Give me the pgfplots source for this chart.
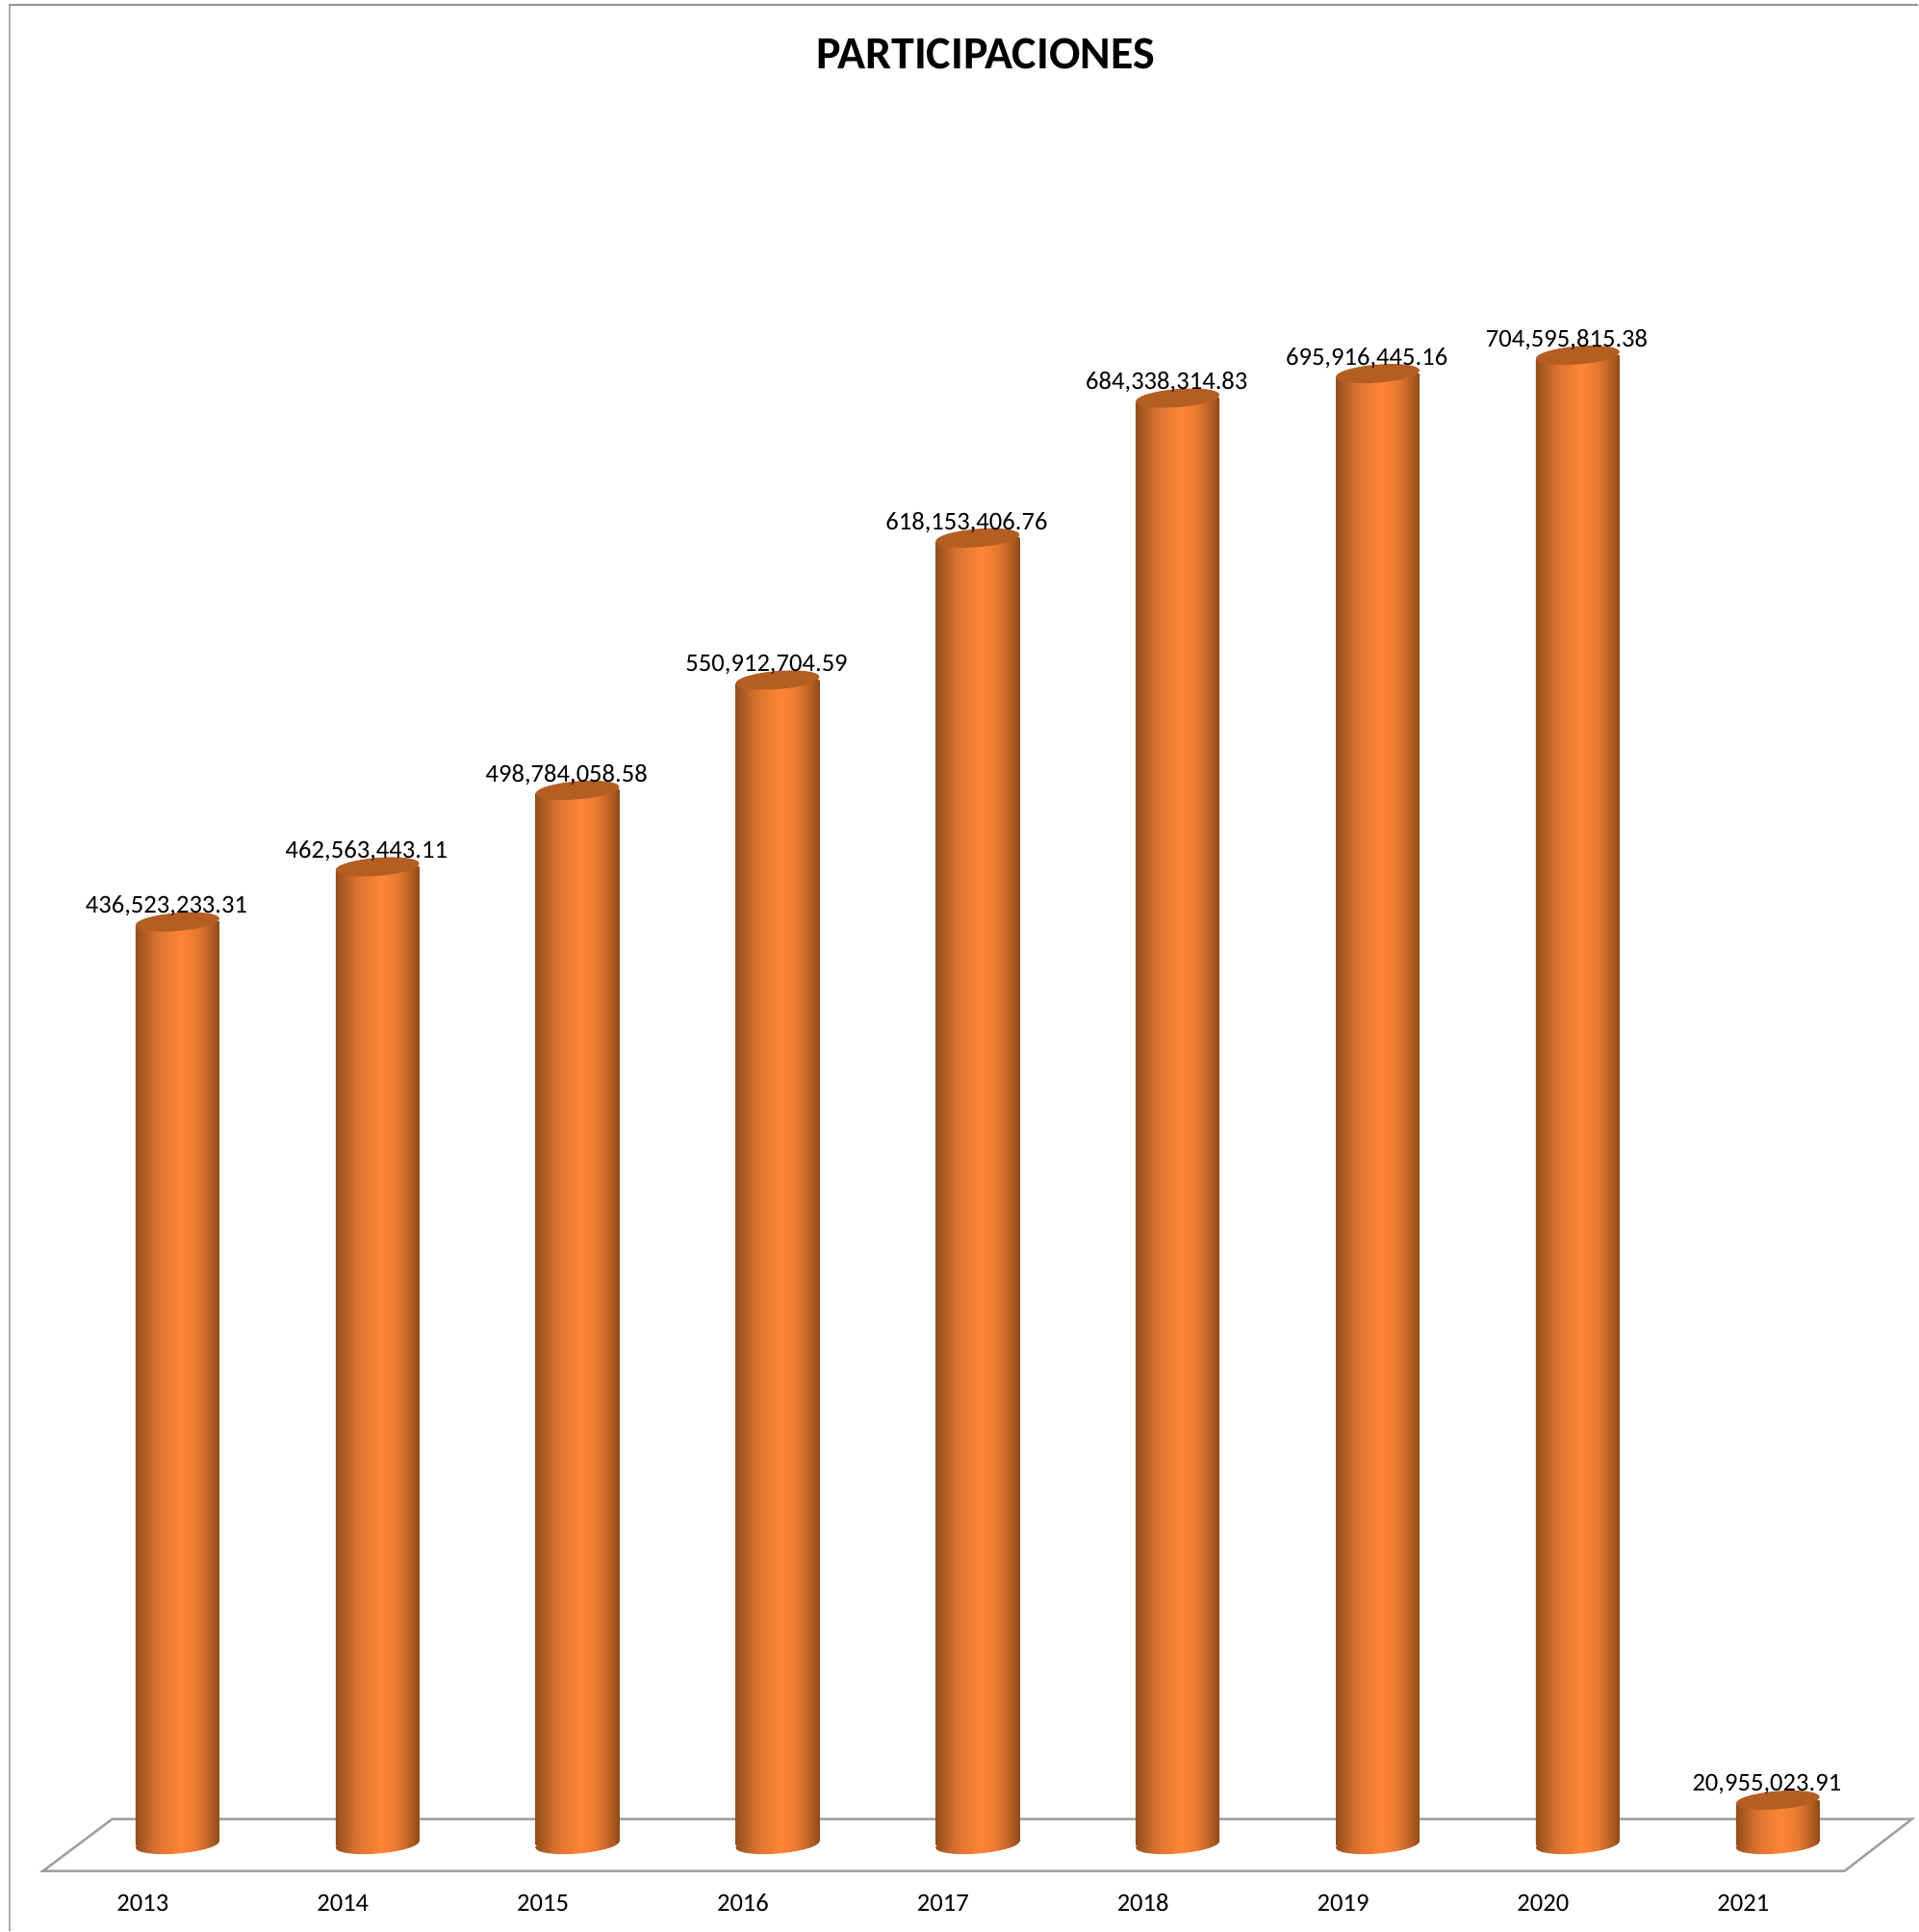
\documentclass[border=0pt]{standalone}
\usepackage{pgfplots}
\pgfplotsset{compat=1.18}
\usepackage{pgfplotstable}
\usepackage{fontspec}
\setmainfont{Carlito}
\definecolor{cylA}{HTML}{944E1D}
\definecolor{cylB}{HTML}{D97230}
\definecolor{cylC}{HTML}{FF8534}
\definecolor{cylD}{HTML}{E57830}
\definecolor{cylE}{HTML}{AE5B22}
\definecolor{cylF}{HTML}{8C4919}
\definecolor{cylTop}{HTML}{B55E24}
\definecolor{floorc}{HTML}{A0A0A0}
\definecolor{framec}{HTML}{ABABAB}
\pgfdeclarehorizontalshading{cyl}{100bp}{
 color(0bp)=(cylA); color(25bp)=(cylA); color(37bp)=(cylB); color(52bp)=(cylC);
 color(62bp)=(cylD); color(71bp)=(cylE); color(75bp)=(cylF); color(100bp)=(cylF)}
\pgfdeclareplotmark{cyltop}{%
 \pgfpathellipse{\pgfpointorigin}{\pgfqpoint{21.75bp}{1.75bp}}{\pgfqpoint{-0.3bp}{4.7bp}}%
 \pgfsetfillcolor{cylTop}\pgfusepath{fill}}
\pgfdeclareplotmark{cylbase}{%
 \pgfpathellipse{\pgfpointorigin}{\pgfqpoint{21.75bp}{1.75bp}}{\pgfqpoint{-0.3bp}{4.7bp}}%
 \pgfshadepath{cyl}{0}\pgfusepath{discard}}
\pgfdeclareplotmark{basemask}{%
 \pgfpathrectanglecorners{\pgfqpoint{10bp}{-1bp}}{\pgfqpoint{22.5bp}{1.75bp}}%
 \pgfsetfillcolor{white}\pgfusepath{fill}}
\pgfdeclareplotmark{topmask}{%
 \pgfpathrectanglecorners{\pgfqpoint{-22.5bp}{-1.75bp}}{\pgfqpoint{-10bp}{1bp}}%
 \pgfsetfillcolor{white}\pgfusepath{fill}}
\pgfplotstableread{
x y label
0 436523233.31 436,523,233.31
1 462563443.11 462,563,443.11
2 498784058.58 498,784,058.58
3 550912704.59 550,912,704.59
4 618153406.76 618,153,406.76
5 684338314.83 684,338,314.83
6 695916445.16 695,916,445.16
7 704595815.38 704,595,815.38
8 20955023.91 20,955,023.91
}\datatable
\pgfplotstableread{
x y
0 0
1 0
2 0
3 0
4 0
5 0
6 0
7 0
8 0
}\basetable
\pgfplotsset{cylbar/.style={ybar, bar width=43.5bp, bar shift=0pt, draw=none, shading=cyl, mark=none}}
\begin{document}
\begin{tikzpicture}
\begin{axis}[
 scale only axis, width=997bp, height=1003.5bp,
 xmin=-0.887, xmax=8.700, ymin=-40970000, ymax=872600000,
 axis line style={draw=none}, major tick length=0pt,
 ytick=\empty, xtick={0,...,8},
 xticklabels={2013,2014,2015,2016,2017,2018,2019,2020,2021},
 x tick label style={font=\fontsize{13.3bp}{15bp}\selectfont, anchor=center, xshift=-18bp, yshift=14.6bp},
 clip=false,
 title={\fontsize{24bp}{27bp}\selectfont\bfseries PARTICIPACIONES},
 title style={at={(axis description cs:0.5135,0.9726)}, anchor=center, yshift=-6.4bp, xshift=0.4bp},
]
\addplot[sharp plot, floorc, line width=1.25bp, mark=none] coordinates
 {(-0.326,12000000) (8.671,12000000) (8.334,-12550000) (-0.672,-12550000) (-0.326,12000000)};
\addplot[cylbar] coordinates {(0,436523233.31)};
\addplot[cylbar] coordinates {(1,462563443.11)};
\addplot[cylbar] coordinates {(2,498784058.58)};
\addplot[cylbar] coordinates {(3,550912704.59)};
\addplot[cylbar] coordinates {(4,618153406.76)};
\addplot[cylbar] coordinates {(5,684338314.83)};
\addplot[cylbar] coordinates {(6,695916445.16)};
\addplot[cylbar] coordinates {(7,704595815.38)};
\addplot[cylbar] coordinates {(8,20955023.91)};
\addplot[only marks, mark=basemask] table[x=x,y=y] {\basetable};
\addplot[only marks, mark=cylbase] table[x=x,y=y] {\basetable};
\addplot[only marks, mark=topmask] table[x=x,y=y] {\datatable};
\addplot[only marks, mark=cyltop, point meta=explicit symbolic,
 nodes near coords, nodes near coords align={center},
 every node near coord/.append style={font=\fontsize{13.3bp}{15bp}\selectfont, text=black, anchor=center, xshift=-5.7bp, yshift=8.1bp, inner sep=0pt}]
 table[x=x,y=y,meta=label] {\datatable};
\draw[framec, line width=1bp] (axis description cs:0.0050,0) -- (axis description cs:0.0050,0.9975);
\draw[gray!85, line width=0.7bp] (axis description cs:0.0045,0.9975) -- (axis description cs:1,0.9975);
\end{axis}
\end{tikzpicture}
\end{document}
